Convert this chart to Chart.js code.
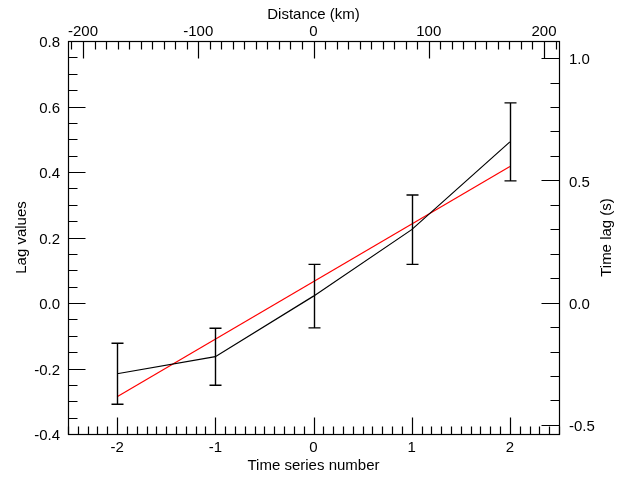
<!DOCTYPE html>
<html>
<head>
<meta charset="utf-8">
<title>Lag values</title>
<script src="https://cdn.jsdelivr.net/npm/chart.js@4.4.1/dist/chart.umd.min.js"></script>
<style>
  html, body { margin: 0; padding: 0; background: #fff; }
  #wrap { width: 620px; height: 477px; }
</style>
</head>
<body>
<div id="wrap"><canvas id="lagChart" width="620" height="477"></canvas></div>
<script>
// values
const seriesNumbers = [-2, -1, 0, 1, 2];
const lagValues = [-0.216, -0.164, 0.021, 0.224, 0.492];
const lagErrors = [0.093, 0.087, 0.097, 0.106, 0.119];
const fitNumbers = [-2, 2];
const fitValues = [-0.286, 0.417];

// tick labels
const bottomTicks = [-2, -1, 0, 1, 2];
const topTicks = [-200, -100, 0, 100, 200];
const leftTicks = [-0.4, -0.2, 0.0, 0.2, 0.4, 0.6, 0.8];
const rightTicks = [-0.5, 0.0, 0.5, 1.0];

const FONT = "'Liberation Sans', Arial, Helvetica, sans-serif";
Chart.defaults.font.family = FONT;
Chart.defaults.font.size = 15;
Chart.defaults.color = '#000';

// IDL-style frame with inward ticks, error bars, right-hand title
const idlAxes = {
    id: 'idlAxes',
    afterDatasetsDraw(chart) {
        const { ctx, chartArea: a, scales } = chart;
        const L = Math.round(a.left) + 0.5, R = Math.round(a.right) + 0.5;
        const T = Math.round(a.top) + 0.5, B = Math.round(a.bottom) + 0.5;
        ctx.save();
        ctx.strokeStyle = '#000';

        // error bars
        ctx.lineWidth = 1.4;
        ctx.beginPath();
        seriesNumbers.forEach((n, i) => {
            const x = Math.round(scales.x.getPixelForValue(n)) + 0.5;
            const y1 = scales.y.getPixelForValue(lagValues[i] + lagErrors[i]);
            const y2 = scales.y.getPixelForValue(lagValues[i] - lagErrors[i]);
            ctx.moveTo(x, y1); ctx.lineTo(x, y2);
            ctx.moveTo(x - 6, y1); ctx.lineTo(x + 6, y1);
            ctx.moveTo(x - 6, y2); ctx.lineTo(x + 6, y2);
        });
        ctx.stroke();

        // frame
        ctx.lineWidth = 1.2;
        ctx.strokeRect(L, T, R - L, B - T);

        const vals = (scale, step) => {
            const out = [];
            for (let k = Math.ceil(scale.min / step - 1e-6); k <= Math.floor(scale.max / step + 1e-6); k++) out.push(k * step);
            return out;
        };
        ctx.beginPath();
        const hTicks = (scale, list, len, top) => list.forEach(v => {
            const x = Math.round(scale.getPixelForValue(v)) + 0.5;
            if (top) { ctx.moveTo(x, T); ctx.lineTo(x, T + len); }
            else { ctx.moveTo(x, B); ctx.lineTo(x, B - len); }
        });
        const vTicks = (scale, list, len, right) => list.forEach(v => {
            const y = Math.round(scale.getPixelForValue(v)) + 0.5;
            if (right) { ctx.moveTo(R, y); ctx.lineTo(R - len, y); }
            else { ctx.moveTo(L, y); ctx.lineTo(L + len, y); }
        });
        hTicks(scales.x, vals(scales.x, 0.1), 8, false);
        hTicks(scales.x, bottomTicks, 17, false);
        hTicks(scales.x2, vals(scales.x2, 10), 8, true);
        hTicks(scales.x2, topTicks, 17, true);
        vTicks(scales.y, vals(scales.y, 0.05), 9, false);
        vTicks(scales.y, leftTicks, 17, false);
        vTicks(scales.y2, vals(scales.y2, 0.1), 9, true);
        vTicks(scales.y2, rightTicks, 18, true);
        ctx.stroke();

        // right axis title, reading bottom to top
        ctx.fillStyle = '#000';
        ctx.font = '15px ' + FONT;
        ctx.textAlign = 'center';
        ctx.textBaseline = 'middle';
        ctx.translate(607, (a.top + a.bottom) / 2);
        ctx.rotate(-Math.PI / 2);
        ctx.fillText('Time lag (s)', 0, 0);
        ctx.restore();
    }
};

const fixTicks = list => scale => { scale.ticks = list.map(v => ({ value: v })); };
const fixSize = (w, h) => scale => {
    if (w) scale.width = w;
    if (h) scale.height = h;
};
const noGrid = { display: false, drawTicks: false };
const noBorder = { display: false };

new Chart(document.getElementById('lagChart'), {
    type: 'line',
    data: {
        datasets: [{
            label: 'Lag values',
            data: seriesNumbers.map((n, i) => ({ x: n, y: lagValues[i] })),
            borderColor: '#000',
            borderWidth: 1.2,
            pointRadius: 0,
            tension: 0,
            xAxisID: 'x',
            yAxisID: 'y'
        }, {
            label: 'Fit',
            data: fitNumbers.map((n, i) => ({ x: n, y: fitValues[i] })),
            borderColor: '#ff0000',
            borderWidth: 1.2,
            pointRadius: 0,
            tension: 0,
            xAxisID: 'x',
            yAxisID: 'y'
        }]
    },
    options: {
        responsive: false,
        animation: false,
        layout: { padding: 0 },
        plugins: {
            legend: { display: false },
            tooltip: { enabled: false }
        },
        scales: {
            x: {
                type: 'linear', position: 'bottom', min: -2.5, max: 2.5,
                grid: noGrid, border: noBorder,
                afterBuildTicks: fixTicks(bottomTicks),
                afterFit: fixSize(null, 43),
                ticks: { padding: 5, callback: v => String(v) },
                title: { display: true, text: 'Time series number', padding: { top: 0, bottom: 2 } }
            },
            x2: {
                type: 'linear', position: 'top', min: -213, max: 213,
                grid: noGrid, border: noBorder,
                afterBuildTicks: fixTicks(topTicks),
                afterFit: fixSize(null, 41),
                ticks: { padding: 0, callback: v => String(v) },
                title: { display: true, text: 'Distance (km)', padding: { top: 6, bottom: 0 } }
            },
            y: {
                type: 'linear', position: 'left', min: -0.4, max: 0.8,
                grid: noGrid, border: noBorder,
                afterBuildTicks: fixTicks(leftTicks),
                afterFit: fixSize(68, null),
                ticks: { padding: 8, labelOffset: 2, callback: v => v.toFixed(1) },
                title: { display: true, text: 'Lag values', padding: { top: 13, bottom: 0 } }
            },
            y2: {
                type: 'linear', position: 'right', min: -0.537, max: 1.07,
                grid: noGrid, border: noBorder,
                afterBuildTicks: fixTicks(rightTicks),
                afterFit: fixSize(61, null),
                ticks: { padding: 10, labelOffset: 2, callback: v => v.toFixed(1) },
                title: { display: false }
            }
        }
    },
    plugins: [idlAxes]
});
</script>
</body>
</html>
